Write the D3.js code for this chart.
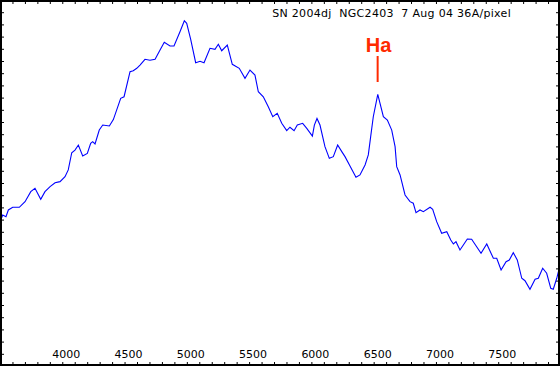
<!DOCTYPE html>
<html>
<head>
<meta charset="utf-8">
<script src="https://cdn.jsdelivr.net/npm/d3@7"></script>
<style>
    body { margin: 0; background: #fff; }
    svg { display: block; }
</style>
</head>
<body>
<div class="chart"></div>
<script>
    "use strict";

    // spectrum (wavelength in A, relative flux)
    var wavelengths = [3500, 3522, 3548, 3567, 3602, 3655, 3701, 3747, 3781, 3827,
        3861, 3902, 3942, 3982, 4022, 4048, 4076, 4102, 4129, 4164,
        4201, 4228, 4244, 4263, 4297, 4325, 4378, 4410, 4469, 4496,
        4544, 4570, 4598, 4624, 4664, 4704, 4745, 4785, 4819, 4865,
        4897, 4945, 4980, 4999, 5031, 5071, 5106, 5138, 5186, 5226,
        5253, 5280, 5325, 5365, 5421, 5467, 5507, 5547, 5574, 5614,
        5654, 5690, 5726, 5762, 5802, 5828, 5861, 5887, 5930, 5963,
        6008, 6024, 6045, 6069, 6109, 6144, 6176, 6211, 6244, 6270,
        6310, 6358, 6390, 6431, 6457, 6476, 6497, 6533, 6578, 6610,
        6645, 6672, 6685, 6712, 6752, 6792, 6818, 6840, 6872, 6899,
        6953, 6974, 7006, 7046, 7087, 7119, 7140, 7161, 7193, 7220,
        7252, 7287, 7300, 7327, 7362, 7408, 7461, 7488, 7523, 7563,
        7589, 7621, 7653, 7689, 7715, 7755, 7796, 7822, 7857, 7889,
        7922, 7942, 7970, 7988];

    var flux = [11.83, 12.38, 12.24, 12.79, 13.01, 13.01, 13.47, 14.29, 14.57, 13.66,
        14.29, 14.70, 15.02, 15.11, 15.52, 16.07, 17.48, 17.70, 18.11, 17.21,
        17.43, 18.25, 18.39, 18.20, 19.34, 19.75, 19.67, 20.20, 21.94, 22.07,
        24.12, 24.20, 24.40, 24.67, 25.14, 25.06, 25.14, 25.90, 26.53, 26.23,
        26.23, 27.40, 28.30, 28.09, 26.78, 24.86, 24.98, 24.86, 26.04, 25.96,
        26.37, 25.84, 26.31, 24.73, 24.40, 23.58, 24.26, 23.85, 22.48, 22.07,
        21.25, 20.43, 20.71, 19.89, 19.29, 19.57, 19.29, 19.75, 19.89, 19.48,
        18.85, 19.75, 20.29, 19.75, 17.98, 17.02, 17.16, 18.11, 17.57, 17.16,
        16.39, 15.47, 15.66, 16.48, 17.30, 18.80, 20.43, 22.27, 20.43, 20.16,
        19.34, 17.98, 16.34, 15.66, 14.02, 13.47, 13.34, 12.57, 12.79, 12.65,
        13.01, 12.84, 11.83, 10.88, 11.01, 10.33, 10.00, 10.19, 9.51, 9.92,
        10.41, 10.39, 10.19, 9.78, 9.24, 10.00, 8.83, 8.83, 7.87, 8.55,
        8.69, 9.29, 8.69, 7.19, 6.99, 6.29, 7.11, 7.19, 8.01, 7.60,
        6.37, 6.29, 7.19, 7.93];

    var xLabels = [4000, 4500, 5000, 5500, 6000, 6500, 7000, 7500];
    var xMinorTicks = d3.range(3600, 7980, 100);
    var yTicks = d3.range(1, 30, 1);

    var title = "SN 2004dj  NGC2403  7 Aug 04 36A/pixel";
    var lineLabel = "Ha";
    var lineWave = 6532;

    var width = 560;
    var height = 366;

    var svg = d3.select(".chart")
                .append("svg")
                .attr("width", width)
                .attr("height", height);

    var x = d3.scaleLinear()
              .domain([3500, 7980])
              .range([0, 558]);

    var y = d3.scaleLinear()
              .domain([0, 30])
              .range([366, 0]);

    svg.append("clipPath")
        .attr("id", "plotClip")
        .append("rect")
        .attr("x", 2)
        .attr("y", 2)
        .attr("width", 556)
        .attr("height", 362);

    // ticks on all four sides, no domain lines
    function styleAxis(g) {
        g.select(".domain").remove();
        g.selectAll(".tick line").attr("stroke", "#000");
        g.selectAll(".tick text").remove();
    }

    svg.append("g")
        .attr("transform", "translate(0,366)")
        .call(d3.axisBottom(x).tickValues(xMinorTicks).tickSize(-4).tickFormat(""))
        .call(styleAxis);

    svg.append("g")
        .attr("transform", "translate(0,0)")
        .call(d3.axisTop(x).tickValues(xMinorTicks).tickSize(-4).tickFormat(""))
        .call(styleAxis);

    svg.append("g")
        .attr("transform", "translate(0,0)")
        .call(d3.axisLeft(y).tickValues(yTicks).tickSize(-4).tickFormat(""))
        .call(styleAxis);

    svg.append("g")
        .attr("transform", "translate(560,0)")
        .call(d3.axisRight(y).tickValues(yTicks).tickSize(-4).tickFormat(""))
        .call(styleAxis);

    // wavelength labels sit inside the frame, above the bottom edge
    svg.append("g")
        .selectAll("text")
        .data(xLabels)
        .enter()
        .append("text")
        .attr("x", function(d) {
            return x(d) + 4;
        })
        .attr("y", 358)
        .attr("text-anchor", "middle")
        .attr("font-family", "DejaVu Sans, sans-serif")
        .attr("font-size", 11)
        .attr("fill", "#000")
        .text(function(d) {
            return d;
        });

    var points = wavelengths.map(function(w, i) {
        return [w, flux[i]];
    });

    var line = d3.line()
                 .x(function(d) { return x(d[0]); })
                 .y(function(d) { return y(d[1]); });

    svg.append("path")
        .datum(points)
        .attr("clip-path", "url(#plotClip)")
        .attr("d", line)
        .attr("fill", "none")
        .attr("stroke", "#0000ff")
        .attr("stroke-width", 1.1)
        .attr("stroke-linejoin", "miter");

    // H-alpha marker
    svg.append("line")
        .attr("x1", x(lineWave))
        .attr("x2", x(lineWave))
        .attr("y1", 56)
        .attr("y2", 82)
        .attr("stroke", "#ff2a00")
        .attr("stroke-width", 2);

    svg.append("text")
        .attr("x", x(lineWave) + 1)
        .attr("y", 52)
        .attr("text-anchor", "middle")
        .attr("font-family", "Liberation Sans, Arial, sans-serif")
        .attr("font-weight", "bold")
        .attr("font-size", 20)
        .attr("fill", "#ff2a00")
        .text(lineLabel);

    svg.append("text")
        .attr("x", 511)
        .attr("y", 17)
        .attr("text-anchor", "end")
        .attr("xml:space", "preserve")
        .style("white-space", "pre")
        .attr("font-family", "DejaVu Sans, sans-serif")
        .attr("font-size", 11)
        .attr("letter-spacing", 0.3)
        .attr("fill", "#000")
        .text(title);

    // frame
    svg.append("rect")
        .attr("x", 1)
        .attr("y", 1)
        .attr("width", 558)
        .attr("height", 364)
        .attr("fill", "none")
        .attr("stroke", "#000")
        .attr("stroke-width", 2);
</script>
</body>
</html>
